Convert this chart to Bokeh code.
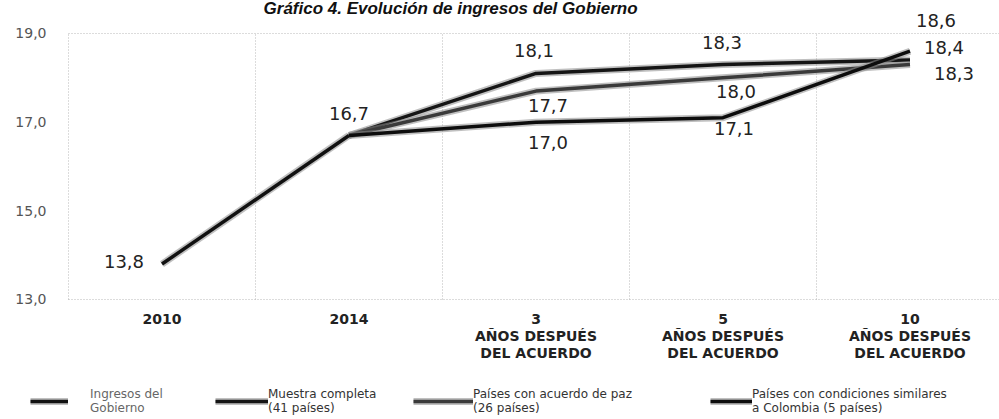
from bokeh.plotting import figure
from bokeh.models import (ColumnDataSource, Range1d, FixedTicker, Legend, LegendItem, Label)
from bokeh.core.properties import value
from bokeh.embed import file_html
from bokeh.resources import INLINE

# ---- data ----
categories = ["2010", "2014", "3\nAÑOS DESPUÉS\nDEL ACUERDO",
              "5\nAÑOS DESPUÉS\nDEL ACUERDO", "10\nAÑOS DESPUÉS\nDEL ACUERDO"]
ingresos_x = [0, 1]
ingresos = [13.8, 16.7]
acuerdo_x = [1, 2, 3, 4]
muestra = [16.7, 18.1, 18.3, 18.4]
paz = [16.7, 17.7, 18.0, 18.3]
similares = [16.7, 17.0, 17.1, 18.6]
y_ticks = [13.0, 15.0, 17.0, 19.0]
title_text = "Gráfico 4. Evolución de ingresos del Gobierno"
legend_labels = ["Ingresos del\nGobierno", "Muestra completa\n(41 países)",
                 "Países con acuerdo de paz\n(26 países)",
                 "Países con condiciones similares\na Colombia (5 países)"]

def fmt(v):
    return f"{v:.1f}".replace(".", ",")

FONT = "DejaVu Sans"

p = figure(width=999, height=419, output_backend="svg", toolbar_location=None,
           x_range=Range1d(-0.8636, 4.4786), y_range=Range1d(10.293, 19.744),
           min_border_left=0, min_border_right=0, min_border_top=0,
           min_border_bottom=0)
p.outline_line_color = None
p.background_fill_color = "white"
p.border_fill_color = "white"

# grid: dotted box + vertical category separators
p.xgrid.ticker = FixedTicker(ticks=[-0.5, 0.5, 1.5, 2.5, 3.5, 4.5])
p.ygrid.ticker = FixedTicker(ticks=[13.0, 19.0])
for g in (p.xgrid, p.ygrid):
    g.grid_line_color = "#b8b8b8"
    g.grid_line_dash = "1 2"
    g.grid_line_width = 1
p.xgrid.cross_bounds = (13.0, 19.0)
p.ygrid.cross_bounds = (-0.5, 4.5)

# axes, fixed at the plot box edges
p.xaxis.fixed_location = 13.0
p.yaxis.fixed_location = -0.5
p.xaxis.ticker = FixedTicker(ticks=list(range(len(categories))))
p.xaxis.major_label_overrides = {i: c for i, c in enumerate(categories)}
p.xaxis.major_label_text_font = FONT
p.xaxis.major_label_text_font_style = "bold"
p.xaxis.major_label_text_font_size = "14px"
p.xaxis.major_label_text_color = "#222222"
p.xaxis.major_label_text_line_height = 1.05
p.xaxis.major_label_standoff = 6

p.yaxis.ticker = FixedTicker(ticks=y_ticks)
p.yaxis.major_label_overrides = {t: fmt(t) for t in y_ticks}
p.yaxis.major_label_text_font = FONT
p.yaxis.major_label_text_font_size = "14px"
p.yaxis.major_label_text_color = "#555555"
p.yaxis.major_label_standoff = 16

for ax in (p.xaxis, p.yaxis):
    ax.axis_line_color = None
    ax.major_tick_line_color = None
    ax.minor_tick_line_color = None

# series lines (gray shadow + dark line)
series = [
    (ingresos_x, ingresos, "#111111"),
    (acuerdo_x, muestra, "#151515"),
    (acuerdo_x, paz, "#3a3a3a"),
    (acuerdo_x, similares, "#0d0d0d"),
]
renderers = []
for xs, ys, col in series:
    sh = p.line(xs, ys, line_color="#8c8c8c", line_width=7, line_alpha=0.55)
    ln = p.line(xs, ys, line_color=col, line_width=3.5)
    renderers.append([sh, ln])

# data labels (series, index, dx, dy in px)
lab_specs = [
    (ingresos_x, ingresos, 0, -38, -3),
    (ingresos_x, ingresos, 1, 0, -22),
    (acuerdo_x, muestra, 1, -2, -23),
    (acuerdo_x, paz, 1, 12, 14),
    (acuerdo_x, similares, 1, 12, 20),
    (acuerdo_x, muestra, 2, -1, -22),
    (acuerdo_x, paz, 2, 13, 14),
    (acuerdo_x, similares, 2, 11, 11),
    (acuerdo_x, similares, 3, 26, -31),
    (acuerdo_x, muestra, 3, 34, -13),
    (acuerdo_x, paz, 3, 44, 9),
]
lab_src = ColumnDataSource(dict(
    x=[s[0][s[2]] for s in lab_specs],
    y=[s[1][s[2]] for s in lab_specs],
    t=[fmt(s[1][s[2]]) for s in lab_specs],
    dx=[s[3] for s in lab_specs],
    dy=[s[4] for s in lab_specs],
))
p.text(x="x", y="y", text="t", x_offset="dx", y_offset="dy", source=lab_src,
       text_font=value(FONT), text_font_size="18px", text_color="#222222",
       text_align="center", text_baseline="middle")

# title
p.add_layout(Label(x=0.543, y=19.56, text=title_text, text_font="Liberation Sans",
                   text_font_style="bold italic", text_font_size="17px",
                   text_color="#111111", text_baseline="middle", text_align="left"))

# legends (one per item for exact placement)
leg_pos = [(30, 38, 22, "#666666"), (215, 53, 0, "#333333"),
           (413, 60, 0, "#333333"), (710, 42, 0, "#333333")]
for (vx, gw, st, tc), lbl, rs in zip(leg_pos, legend_labels, renderers):
    lg = Legend(items=[LegendItem(label=lbl, renderers=rs)], location=(vx, 4),
                glyph_width=gw, glyph_height=22, label_standoff=st,
                padding=0, margin=0, spacing=0,
                border_line_color=None, background_fill_alpha=0,
                label_text_font=FONT, label_text_font_size="12px",
                label_text_color=tc, label_text_line_height=1.1)
    p.add_layout(lg, "center")

open("out.html", "w").write(file_html(p, INLINE))
